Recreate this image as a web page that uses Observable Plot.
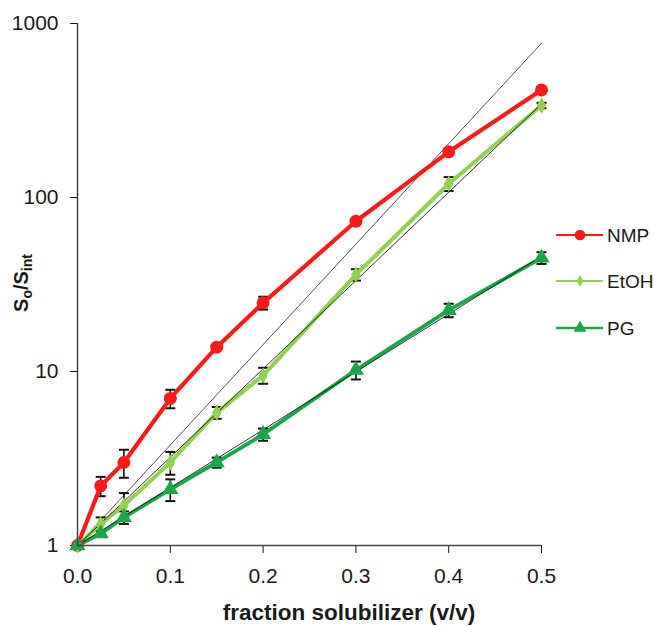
<!DOCTYPE html>
<html><head><meta charset="utf-8">
<script src="https://cdn.jsdelivr.net/npm/d3@7"></script>
<script src="https://cdn.jsdelivr.net/npm/@observablehq/plot@0.6"></script>
<style>
body{margin:0;background:#fff;}
#wrap{position:relative;width:654px;height:626px;}
</style></head><body><div id="wrap"></div>
<script>
// ---- data ----
const fraction = [0, 0.025, 0.05, 0.1, 0.15, 0.2, 0.3, 0.4, 0.5];
const nmpRatio = [1, 2.2, 3.0, 7.0, 13.8, 24.8, 73, 183, 415];
const nmpErr   = [0, 0.28, 0.55, 0.85, 0.4, 2.1, 2.5, 6, 10];
const etohRatio = [1, 1.33, 1.7, 3.0, 5.8, 9.5, 36, 120, 338];
const etohErr   = [0, 0.12, 0.3, 0.45, 0.45, 1.0, 2.7, 11, 12];
const pgRatio = [1, 1.17, 1.45, 2.1, 3.0, 4.35, 10.2, 22.5, 45];
const pgErr   = [0, 0.05, 0.12, 0.3, 0.2, 0.35, 1.2, 2, 3.5];
const seriesNames = ["NMP", "EtOH", "PG"];
const seriesColors = ["#ff1a1a", "#92d050", "#1aa64a"];
const seriesSymbols = ["circle", "diamond", "triangle"];
const fitX = [0, 0.5];
const refLineY = [1, 770];
const etohFitY = [1, 345];
const pgFitY = [1, 46];
const xTicks = [0, 0.1, 0.2, 0.3, 0.4, 0.5];
const yTicks = [1, 10, 100, 1000];
const xLabel = "fraction solubilizer (v/v)";

// ---- tables ----
const makeRows = (name, ys, errs) => fraction.map((x, i) => ({series: name, x, y: ys[i], lo: ys[i] - errs[i], hi: ys[i] + errs[i], err: errs[i]}));
const nmpRows = makeRows("NMP", nmpRatio, nmpErr);
const etohRows = makeRows("EtOH", etohRatio, etohErr);
const pgRows = makeRows("PG", pgRatio, pgErr);
const errRows = [...nmpRows, ...etohRows, ...pgRows].filter(d => d.err > 0);
const fitRows = (name, ys) => fitX.map((x, i) => ({fit: name, x, y: ys[i]}));
const refRows = fitRows("ref", refLineY);
const blackFits = [...fitRows("EtOH", etohFitY), ...fitRows("PG", pgFitY)];

const capSymbol = {draw(ctx, size) { const w = Math.sqrt(size / Math.PI); ctx.moveTo(-w, 0); ctx.lineTo(w, 0); }};

const font = "'Liberation Sans', Arial, sans-serif";
const chart = Plot.plot({
  width: 654, height: 626,
  marginLeft: 77, marginRight: 113, marginTop: 23, marginBottom: 81,
  style: {fontFamily: font, fontSize: "21px", color: "#1a1a1a", background: "white"},
  x: {domain: [0, 0.5], ticks: xTicks, tickFormat: d => d.toFixed(1), tickSize: 8, tickPadding: 15, label: null},
  y: {type: "log", domain: [1, 1000], ticks: yTicks, tickFormat: d => String(d), tickSize: 7, tickPadding: 12, label: null},
  marks: [
    Plot.line(refRows, {x: "x", y: "y", stroke: "#555", strokeWidth: 1}),
    Plot.ruleX(errRows, {x: "x", y1: "lo", y2: "hi", stroke: "#111", strokeWidth: 1.6}),
    Plot.dot(errRows, {x: "x", y: "hi", r: 5, symbol: capSymbol, fill: "none", stroke: "#111", strokeWidth: 2}),
    Plot.dot(errRows, {x: "x", y: "lo", r: 5, symbol: capSymbol, fill: "none", stroke: "#111", strokeWidth: 2}),
    Plot.line(nmpRows, {x: "x", y: "y", stroke: seriesColors[0], strokeWidth: 4.2}),
    Plot.line(etohRows, {x: "x", y: "y", stroke: seriesColors[1], strokeWidth: 4}),
    Plot.line(pgRows, {x: "x", y: "y", stroke: seriesColors[2], strokeWidth: 3.8}),
    Plot.line(blackFits, {x: "x", y: "y", z: "fit", stroke: "#111", strokeWidth: 1, strokeOpacity: 0.85}),
    Plot.dot(nmpRows, {x: "x", y: "y", r: 6.5, fill: seriesColors[0], symbol: seriesSymbols[0]}),
    Plot.dot(etohRows, {x: "x", y: "y", r: 5, fill: seriesColors[1], symbol: seriesSymbols[1]}),
    Plot.dot(pgRows, {x: "x", y: "y", r: 6, fill: seriesColors[2], symbol: seriesSymbols[2]}),
    Plot.ruleX([0], {stroke: "#444", strokeWidth: 1.5}),
    Plot.ruleY([1], {stroke: "#444", strokeWidth: 1.5})
  ]
});
document.getElementById("wrap").appendChild(chart);

const svg = d3.select(chart);
// x axis title
svg.append("text").attr("x", 349).attr("y", 620).attr("text-anchor", "middle")
  .attr("font-family", font).attr("font-weight", "bold").attr("font-size", 22.5).attr("fill", "#1a1a1a")
  .text(xLabel);
// y axis title with subscripts
const yt = svg.append("text").attr("transform", "translate(28,283) rotate(-90)").attr("text-anchor", "middle")
  .attr("font-family", font).attr("font-weight", "bold").attr("font-size", 20).attr("fill", "#1a1a1a");
yt.append("tspan").text("S");
yt.append("tspan").attr("font-size", 14).attr("dy", 4).text("o");
yt.append("tspan").attr("dy", -4).text("/S");
yt.append("tspan").attr("font-size", 14).attr("dy", 4).text("int");

// legend
const legY = [235, 281, 328];
const legWidths = [2, 2, 2.5];
const legSizes = [90, 40, 70];
const leg = svg.append("g");
seriesNames.forEach((name, i) => {
  const g = leg.append("g").attr("transform", `translate(0,${legY[i]})`);
  g.append("line").attr("x1", 556).attr("x2", 603).attr("y1", 0).attr("y2", 0).attr("stroke", seriesColors[i]).attr("stroke-width", legWidths[i]);
  const symType = [d3.symbolCircle, d3.symbolDiamond, d3.symbolTriangle][i];
  g.append("path").attr("transform", "translate(580,0)").attr("d", d3.symbol(symType, legSizes[i])()).attr("fill", seriesColors[i]);
  g.append("text").attr("x", 607).attr("y", 7).attr("text-anchor", "start").attr("font-family", font).attr("font-size", 19).attr("fill", "#1a1a1a").text(name);
});
</script></body></html>
